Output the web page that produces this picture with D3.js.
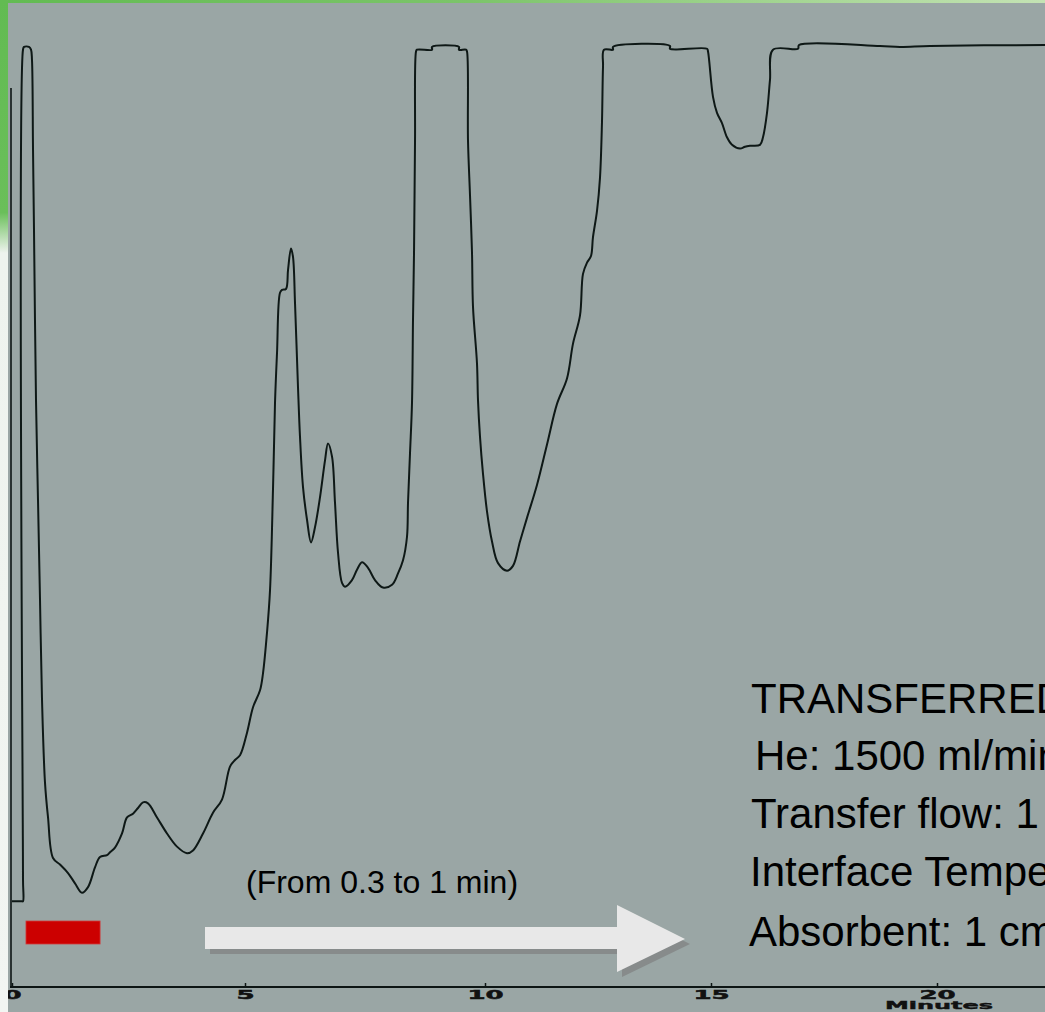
<!DOCTYPE html>
<html>
<head>
<meta charset="utf-8">
<script src="https://cdn.jsdelivr.net/npm/d3@7"></script>
<style>
  html, body { margin: 0; padding: 0; background: #9aa6a5; overflow: hidden; }
  svg { display: block; }
</style>
</head>
<body>
<div id="chart"></div>
<script>
// ---------------- data ----------------
// retention time (minutes)
const timeMin = [
  0, 0.215, 0.236, 0.236, 0.236, 0.258, 0.365, 0.408, 0.429, 0.451, 0.472, 0.515, 0.558, 0.601, 0.644, 0.708, 0.773, 0.880,
  1.030, 1.202, 1.352, 1.502, 1.631, 1.781, 1.888, 2.039, 2.103, 2.210, 2.361, 2.468, 2.597, 2.704, 2.811, 2.918,
  3.112, 3.326, 3.541, 3.755, 3.884, 4.099, 4.313, 4.506, 4.678, 4.785, 4.893, 5.042, 5.167, 5.313, 5.375, 5.458,
  5.521, 5.583, 5.625, 5.667, 5.729, 5.771, 5.854, 5.896, 5.958, 6.000, 6.042, 6.104, 6.146, 6.208, 6.292, 6.375,
  6.458, 6.563, 6.667, 6.729, 6.813, 6.875, 6.938, 7.021, 7.083, 7.229, 7.333, 7.438, 7.563, 7.708, 7.875, 8.063,
  8.188, 8.292, 8.375, 8.396, 8.438, 8.479, 8.500, 8.521, 8.542, 8.563, 8.583, 8.896, 8.896, 9.458, 9.458, 9.604,
  9.625, 9.646, 9.688, 9.729, 9.750, 9.833, 9.854, 9.896, 9.958, 10.044, 10.155, 10.288, 10.487, 10.619, 10.774, 10.929,
  11.150, 11.372, 11.593, 11.814, 11.947, 12.102, 12.168, 12.257, 12.345, 12.389, 12.478, 12.544, 12.588, 12.611, 12.633, 12.832,
  12.832, 14.093, 14.093, 14.912, 14.934, 15.044, 15.133, 15.243, 15.354, 15.465, 15.642, 15.752, 15.863, 16.084, 16.150, 16.239,
  16.305, 16.372, 16.925, 16.947, 18.739, 19.181, 19.845, 22.389
];
// detector signal (% of full scale)
const signal = [
  9.1, 9.1, 9.1, 11.5, 99.5, 99.8, 99.8, 99.5, 98.4, 88.9, 80.4, 62.3, 51.7, 41.1, 30.5, 21.7, 18.0, 13.7,
  13.0, 12.1, 11.0, 10.0, 10.6, 12.7, 13.8, 14.0, 14.3, 14.8, 16.3, 18.0, 18.4, 19.0, 19.6, 19.5,
  18.0, 16.3, 14.9, 14.2, 14.5, 16.3, 18.5, 19.9, 23.4, 24.1, 24.6, 27.0, 29.7, 31.5, 33.3, 37.6,
  42.1, 52.8, 62.0, 67.3, 73.7, 74.0, 74.1, 76.1, 78.4, 77.5, 72.6, 63.7, 58.4, 53.1, 49.6, 47.2,
  48.8, 52.0, 55.9, 57.7, 56.3, 51.4, 46.1, 42.9, 42.5, 43.2, 44.3, 45.1, 44.5, 43.2, 42.4, 42.7,
  43.9, 45.3, 47.8, 51.4, 56.7, 62.0, 70.8, 77.9, 89.8, 99.3, 99.5, 99.5, 99.8, 99.8, 99.5, 99.5,
  99.3, 89.8, 84.0, 78.0, 72.2, 66.2, 62.3, 58.4, 54.5, 50.5, 47.3, 45.0, 44.2, 44.7, 47.3, 49.8,
  53.3, 57.6, 61.9, 64.6, 68.3, 71.3, 75.7, 76.9, 77.6, 79.6, 82.4, 85.9, 91.8, 97.7, 99.5, 99.5,
  99.8, 99.9, 99.6, 99.6, 99.3, 94.5, 92.8, 91.7, 90.2, 89.4, 89.0, 89.2, 89.3, 89.4, 90.2, 92.8,
  96.3, 99.5, 99.6, 100.0, 99.9, 99.8, 99.9, 100.0
];
// axis
const tickMinutes = [0, 5, 10, 15, 20];
const tickLabels = ["0", "5", "10", "15", "20"];
const axisTitle = "Minutes";
// transferred fraction (red bar) in minutes
const transferStart = 0.3;
const transferEnd = 1.89;
const transferLabel = "(From 0.3 to 1 min)";
// conditions text
const conditionLines = [
  "TRANSFERRED",
  "He: 1500 ml/min",
  "Transfer flow: 1",
  "Interface Temperature",
  "Absorbent: 1 cm"
];

// ---------------- layout ----------------
const W = 1045, H = 1012;
const svg = d3.select("#chart").append("svg")
  .attr("width", W).attr("height", H)
  .attr("viewBox", `0 0 ${W} ${H}`);

const defs = svg.append("defs");
const gTop = defs.append("linearGradient").attr("id", "gTop").attr("x1", 0).attr("x2", 1).attr("y1", 0).attr("y2", 0);
gTop.append("stop").attr("offset", 0).attr("stop-color", "#62bb52");
gTop.append("stop").attr("offset", 0.45).attr("stop-color", "#7cc46a");
gTop.append("stop").attr("offset", 1).attr("stop-color", "#c4e3b4");
const gLeft = defs.append("linearGradient").attr("id", "gLeft")
  .attr("gradientUnits", "userSpaceOnUse").attr("x1", 0).attr("x2", 0).attr("y1", 0).attr("y2", H);
gLeft.append("stop").attr("offset", 0).attr("stop-color", "#62bb52");
gLeft.append("stop").attr("offset", 0.21).attr("stop-color", "#6abf5a");
gLeft.append("stop").attr("offset", 0.25).attr("stop-color", "#eef3ee");
gLeft.append("stop").attr("offset", 1).attr("stop-color", "#f2f5f2");

svg.append("rect").attr("width", W).attr("height", H).attr("fill", "#9aa6a5");

// scales (scanned chart: slightly uneven minute spacing)
const x = d3.scaleLinear().domain([0, 5, 10, 15, 20, 25]).range([12, 245, 485, 711, 937, 1163]);
const y = d3.scaleLinear().domain([0, 100]).range([987, 45]);

// y axis line
svg.append("line")
  .attr("x1", 11).attr("x2", 11).attr("y1", 88).attr("y2", y(0))
  .attr("stroke", "#0d1514").attr("stroke-width", 1.6);

// x axis
const xAxis = d3.axisBottom(x)
  .tickValues(tickMinutes)
  .tickFormat((d, i) => tickLabels[i])
  .tickSizeInner(-4).tickSizeOuter(0).tickPadding(3);
const gx = svg.append("g").attr("transform", `translate(0,${y(0)})`).call(xAxis);
gx.select(".domain").attr("d", `M${x(0) - 2},0H${W}`).attr("stroke", "#0d1514").attr("stroke-width", 1.8);
gx.selectAll(".tick line").attr("stroke", "#0d1514").attr("stroke-width", 1.5);
gx.selectAll(".tick text")
  .attr("fill", "#111")
  .attr("stroke", "#111").attr("stroke-width", 0.5)
  .attr("font-family", "DejaVu Sans, sans-serif")
  .attr("font-weight", "bold")
  .attr("font-size", 13)
  .attr("transform", "scale(2,1)");
svg.append("text")
  .attr("x", x(20) + 2).attr("y", 1009)
  .attr("text-anchor", "middle")
  .attr("font-family", "DejaVu Sans, sans-serif")
  .attr("font-weight", "bold").attr("font-size", 11)
  .attr("fill", "#111").attr("stroke", "#111").attr("stroke-width", 0.4)
  .attr("textLength", 108).attr("lengthAdjust", "spacingAndGlyphs")
  .text(axisTitle);

// frame strips (drawn over the axis start, as in the slide)
svg.append("rect").attr("x", 0).attr("y", 0).attr("width", W).attr("height", 3).attr("fill", "url(#gTop)");
svg.append("rect").attr("x", 0).attr("y", 0).attr("width", 8).attr("height", H).attr("fill", "url(#gLeft)");

// chromatogram trace
const pts = timeMin.map((t, i) => [t, signal[i]]);
const line = d3.line().x(d => x(d[0])).y(d => y(d[1])).curve(d3.curveCatmullRom.alpha(0.5));
svg.append("path")
  .datum(pts)
  .attr("d", line)
  .attr("fill", "none")
  .attr("stroke", "#0e1816")
  .attr("stroke-width", 2)
  .attr("stroke-linejoin", "round");

// red transfer bar
svg.append("rect")
  .attr("x", x(transferStart)).attr("y", 921)
  .attr("width", x(transferEnd) - x(transferStart)).attr("height", 23)
  .attr("fill", "#cc0000").attr("stroke", "#d23a3a").attr("stroke-width", 0.8);

// white arrow with shadow
function arrowPath(dx, dy) {
  const x0 = 205 + dx, x1 = 617 + dx, tip = 685 + dx;
  const s0 = 927 + dy, s1 = 949 + dy, h0 = 905 + dy, h1 = 972 + dy, mid = 939 + dy;
  return `M${x0},${s0}H${x1}V${h0}L${tip},${mid}L${x1},${h1}V${s1}H${x0}Z`;
}
svg.append("path").attr("d", arrowPath(5, 5)).attr("fill", "#878b8b");
svg.append("path").attr("d", arrowPath(0, 0)).attr("fill", "#e8e8e8");

// labels
svg.append("text")
  .attr("x", 246).attr("y", 893)
  .attr("font-family", "Liberation Sans, Arial, sans-serif")
  .attr("font-size", 32).attr("fill", "#000")
  .text(transferLabel);

const lineX = [751, 755, 751, 750, 749];
const lineY = [713, 770, 828, 886, 946];
svg.append("g").selectAll("text").data(conditionLines).join("text")
  .attr("x", (d, i) => lineX[i]).attr("y", (d, i) => lineY[i])
  .attr("font-family", "Liberation Sans, Arial, sans-serif")
  .attr("font-size", 42).attr("fill", "#000")
  .text(d => d);
</script>
</body>
</html>
